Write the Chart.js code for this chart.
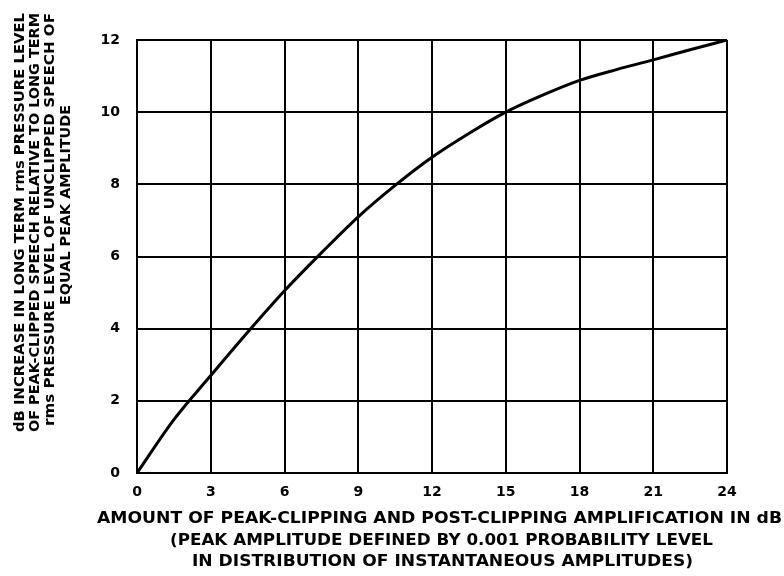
<!DOCTYPE html>
<html>
<head>
<meta charset="utf-8">
<script src="https://cdn.jsdelivr.net/npm/chart.js@4.4.1/dist/chart.umd.min.js"></script>
<style>
  html, body { margin: 0; padding: 0; background: #fff; }
  #wrap { width: 784px; height: 576px; }
</style>
</head>
<body>
<div id="wrap"><canvas id="chart" width="784" height="576"></canvas></div>
<script>
// peak-clipping amount (dB) vs increase in long-term rms level (dB)
const clipDb = [0, 1.5, 3, 4.5, 6, 7.5, 9, 10.5, 12, 13.5, 15, 16.5, 18, 19.5, 21, 22.5, 24];
const increaseDb = [0, 1.48, 2.7, 3.9, 5.05, 6.1, 7.1, 7.97, 8.75, 9.41, 10.0, 10.47, 10.88, 11.18, 11.45, 11.73, 12.0];

const xTicks = [0, 3, 6, 9, 12, 15, 18, 21, 24];
const yTicks = [0, 2, 4, 6, 8, 10, 12];

const yTitle = [
  'dB INCREASE IN LONG TERM rms PRESSURE LEVEL',
  'OF PEAK-CLIPPED SPEECH RELATIVE TO LONG TERM',
  'rms PRESSURE LEVEL OF UNCLIPPED SPEECH OF',
  'EQUAL PEAK AMPLITUDE'
];
const xTitle = [
  'AMOUNT OF PEAK-CLIPPING AND POST-CLIPPING AMPLIFICATION IN dB',
  '(PEAK AMPLITUDE DEFINED BY 0.001 PROBABILITY LEVEL',
  'IN DISTRIBUTION OF INSTANTANEOUS AMPLITUDES)'
];

const FONT = '"DejaVu Sans", "Liberation Sans", sans-serif';

// draw text stretched/squeezed to a given length along its baseline
function fitText(ctx, text, len) {
  const w = ctx.measureText(text).width;
  ctx.save();
  ctx.scale(len / w, 1);
  ctx.fillText(text, 0, 0);
  ctx.restore();
}

const titles = {
  id: 'titles',
  beforeDraw(chart) {
    const ctx = chart.ctx;
    ctx.save();
    ctx.fillStyle = '#fff';
    ctx.fillRect(0, 0, chart.width, chart.height);
    ctx.restore();
  },
  afterDraw(chart) {
    const ctx = chart.ctx;
    ctx.save();
    ctx.fillStyle = '#000';
    ctx.textBaseline = 'middle';
    ctx.textAlign = 'left';

    // rotated y title, [centre x, bottom y, top y]
    ctx.font = 'bold 14px ' + FONT;
    const yPos = [[20, 432, 13], [35, 432, 13], [50, 426, 13], [66, 305, 105]];
    yTitle.forEach((t, i) => {
      const p = yPos[i];
      ctx.save();
      ctx.translate(p[0], p[1]);
      ctx.rotate(-Math.PI / 2);
      fitText(ctx, t, p[1] - p[2]);
      ctx.restore();
    });

    // x title, [left x, right x, centre y]
    ctx.font = 'bold 15px ' + FONT;
    const xPos = [[97, 782, 519], [170, 713, 541], [192, 693, 562]];
    xTitle.forEach((t, i) => {
      const p = xPos[i];
      ctx.save();
      ctx.translate(p[0], p[2]);
      fitText(ctx, t, p[1] - p[0]);
      ctx.restore();
    });
    ctx.restore();
  }
};

new Chart(document.getElementById('chart'), {
  type: 'line',
  data: {
    datasets: [{
      data: clipDb.map((x, i) => ({ x: x, y: increaseDb[i] })),
      borderColor: '#000',
      borderWidth: 3,
      pointRadius: 0,
      fill: false,
      cubicInterpolationMode: 'monotone'
    }]
  },
  options: {
    responsive: false,
    animation: false,
    layout: { padding: { top: 40, right: 57, left: 0, bottom: 0 } },
    plugins: {
      legend: { display: false },
      tooltip: { enabled: false }
    },
    scales: {
      x: {
        type: 'linear',
        min: 0,
        max: 24,
        afterBuildTicks: s => { s.ticks = xTicks.map(v => ({ value: v })); },
        afterFit: s => { s.height = 103; },
        grid: { color: '#000', lineWidth: 2, drawTicks: false },
        border: { color: '#000', width: 2 },
        ticks: {
          color: '#000',
          padding: 11,
          maxRotation: 0,
          font: { family: FONT, size: 14, weight: 'bold' }
        }
      },
      y: {
        min: 0,
        max: 12,
        afterBuildTicks: s => { s.ticks = yTicks.map(v => ({ value: v })); },
        afterFit: s => { s.width = 137; },
        grid: { color: '#000', lineWidth: 2, drawTicks: false },
        border: { color: '#000', width: 2 },
        ticks: {
          color: '#000',
          padding: 17,
          font: { family: FONT, size: 14, weight: 'bold' }
        }
      }
    }
  },
  plugins: [titles]
});
</script>
</body>
</html>
